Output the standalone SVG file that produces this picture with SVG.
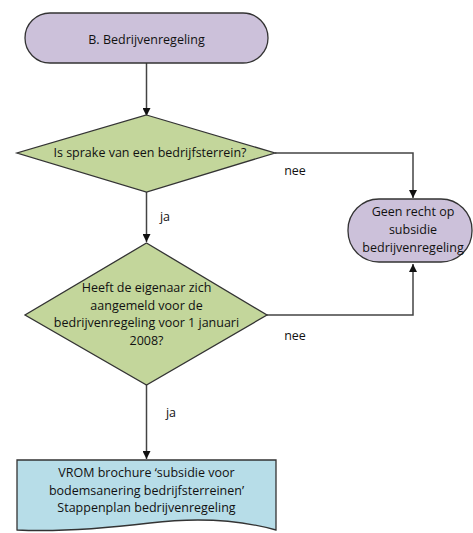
<svg xmlns="http://www.w3.org/2000/svg" width="473" height="533" viewBox="0 0 473 533">
<defs>
<style>
.n{stroke:#333;stroke-width:1.3}
.p{fill:#ccc1da}
.g{fill:#c3d69b}
.b{fill:#b7dde8}
text{font-family:"Open Sans","Liberation Sans",sans-serif;font-size:12.5px;fill:#111;text-anchor:middle}
.c{fill:none;stroke:#444;stroke-width:1.5}
</style>
<marker id="ah" viewBox="0 0 10 10" refX="10" refY="5" markerWidth="8" markerHeight="8" markerUnits="userSpaceOnUse" orient="auto">
<path d="M0,0 L10,5 L0,10 Z" fill="#111"/>
</marker>
</defs>
<rect width="473" height="533" fill="#fff"/>
<g id="connectors">
<path class="c" d="M146.5,63 V116" marker-end="url(#ah)"/>
<path class="c" d="M275,153 H413 V198" marker-end="url(#ah)"/>
<path class="c" d="M146.5,192 V242" marker-end="url(#ah)"/>
<path class="c" d="M267,315 H413 V264" marker-end="url(#ah)"/>
<path class="c" d="M146.5,385 V459" marker-end="url(#ah)"/>
<text x="295" y="175">nee</text>
<text x="165" y="221">ja</text>
<text x="295" y="340">nee</text>
<text x="171" y="417">ja</text>
</g>
<g id="start">
<rect class="n p" x="25" y="13" width="243" height="50" rx="25"/>
<text x="146.5" y="44">B. Bedrijvenregeling</text>
</g>
<g id="q1">
<polygon class="n g" points="146.5,115 275,153 146.5,192 17,153"/>
<text x="150" y="157">Is sprake van een bedrijfsterrein?</text>
</g>
<g id="geen">
<rect class="n p" x="348" y="199" width="124" height="63" rx="31"/>
<text x="413" y="216">Geen recht op</text>
<text x="413" y="234">subsidie</text>
<text x="413" y="252">bedrijvenregeling</text>
</g>
<g id="q2">
<polygon class="n g" points="146.5,243 267,315 146.5,385 25,315"/>
<text x="146.5" y="292">Heeft de eigenaar zich</text>
<text x="146.5" y="309.5">aangemeld voor de</text>
<text x="146.5" y="327">bedrijvenregeling voor 1 januari</text>
<text x="146.5" y="344.5">2008?</text>
</g>
<g id="doc">
<path class="n b" d="M17,460 H276 V530 C240,520 200,517 150,523 C100,529 60,532 17,530 Z"/>
<text x="146.5" y="477">VROM brochure ‘subsidie voor</text>
<text x="146.5" y="494.5">bodemsanering bedrijfsterreinen’</text>
<text x="146.5" y="512">Stappenplan bedrijvenregeling</text>
</g>
</svg>
